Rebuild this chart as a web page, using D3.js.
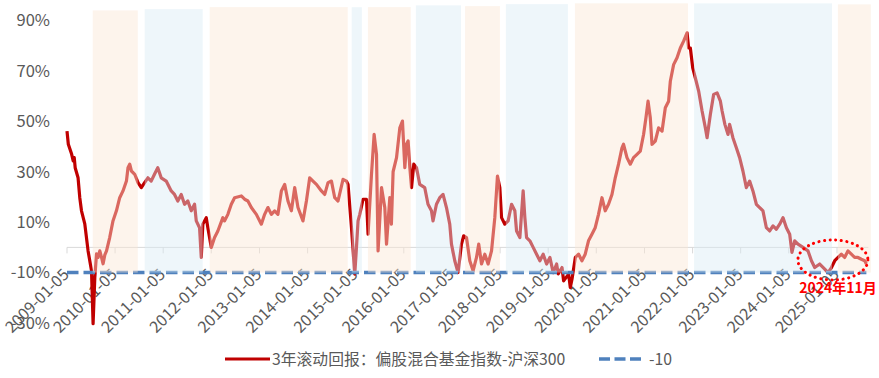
<!DOCTYPE html>
<html>
<head>
<meta charset="utf-8">
<script src="https://cdn.jsdelivr.net/npm/d3@7"></script>
<style>
  body { margin: 0; background: #fff; }
  svg text { font-family: "Noto Sans CJK SC", "Noto Sans", sans-serif; }
</style>
</head>
<body>
<script>
// 3-year rolling return (%)
const rolling3y = [
  ['2009-01-05', 46.1], ['2009-01-15', 40.9], ['2009-02-09', 37.0], ['2009-02-21', 34.3], ['2009-03-01', 35.6],
  ['2009-03-08', 31.6], ['2009-03-30', 27.6], ['2009-04-12', 19.7], ['2009-04-25', 14.5], ['2009-05-20', 9.3],
  ['2009-06-14', -1.4], ['2009-07-10', -9.3], ['2009-07-22', -30.3], ['2009-08-04', -12.0], ['2009-08-17', -2.6],
  ['2009-08-29', -4.0], ['2009-09-11', -1.4], ['2009-09-24', -4.0], ['2009-10-06', -6.5], ['2009-10-19', -3.0],
  ['2009-11-01', -1.4], ['2009-11-25', 3.9], ['2009-12-20', 10.5], ['2010-01-15', 14.5], ['2010-02-09', 19.7],
  ['2010-03-06', 22.4], ['2010-04-01', 26.3], ['2010-04-13', 31.6], ['2010-04-26', 33.0], ['2010-05-09', 30.3],
  ['2010-06-03', 29.0], ['2010-06-28', 25.7], ['2010-07-23', 23.7], ['2010-08-17', 25.7], ['2010-09-11', 27.6],
  ['2010-10-06', 26.3], ['2010-10-31', 29.0], ['2010-11-25', 31.6], ['2010-12-21', 27.6], ['2011-01-28', 26.3],
  ['2011-03-07', 22.4], ['2011-04-01', 21.0], ['2011-04-26', 18.4], ['2011-05-22', 21.0], ['2011-06-16', 17.1],
  ['2011-07-11', 18.4], ['2011-08-06', 14.5], ['2011-08-31', 17.1], ['2011-09-13', 10.5], ['2011-10-08', 7.8],
  ['2011-10-21', -4.0], ['2011-11-02', 9.2], ['2011-11-28', 11.8], ['2011-12-10', 7.8], ['2012-01-05', 0.0],
  ['2012-01-30', 3.9], ['2012-02-24', 6.5], ['2012-04-02', 11.8], ['2012-04-15', 10.5], ['2012-05-10', 13.1],
  ['2012-06-05', 17.1], ['2012-06-30', 19.7], ['2012-08-20', 20.4], ['2012-09-14', 19.1], ['2012-10-09', 18.4],
  ['2012-11-04', 15.8], ['2012-12-12', 13.1], ['2013-01-19', 9.2], ['2013-02-13', 13.1], ['2013-03-10', 15.8],
  ['2013-04-05', 13.1], ['2013-04-30', 14.5], ['2013-05-25', 13.1], ['2013-06-20', 22.4], ['2013-07-15', 25.0],
  ['2013-08-09', 18.4], ['2013-09-04', 14.5], ['2013-09-29', 23.7], ['2013-10-24', 15.8], ['2013-12-01', 10.5],
  ['2013-12-27', 18.4], ['2014-01-21', 27.6], ['2014-02-15', 26.3], ['2014-03-13', 25.0], ['2014-04-20', 22.4],
  ['2014-05-15', 21.0], ['2014-06-09', 25.7], ['2014-07-05', 26.3], ['2014-07-30', 19.7], ['2014-08-24', 18.4],
  ['2014-10-01', 27.0], ['2014-10-27', 26.3], ['2014-11-08', 25.0], ['2014-12-04', 7.8], ['2014-12-29', -10.6],
  ['2015-01-11', 0.0], ['2015-01-23', 10.5], ['2015-02-05', 13.1], ['2015-03-02', 19.1], ['2015-03-28', 19.1],
  ['2015-04-09', 5.2], ['2015-05-05', 29.0], ['2015-05-25', 44.8], ['2015-06-12', 36.9], ['2015-06-24', -1.4],
  ['2015-07-20', 23.7], ['2015-08-14', 15.8], ['2015-08-27', 1.3], ['2015-09-21', 19.7], ['2015-10-03', 9.2],
  ['2015-10-16', 30.0], ['2015-11-11', 35.6], ['2015-12-06', 47.4], ['2015-12-26', 50.1], ['2016-01-13', 31.6],
  ['2016-01-26', 40.9], ['2016-02-07', 42.2], ['2016-02-20', 31.6], ['2016-03-04', 23.7], ['2016-03-21', 33.0],
  ['2016-04-11', 31.6], ['2016-05-05', 25.0], ['2016-06-12', 23.7], ['2016-07-07', 17.1], ['2016-08-02', 14.5],
  ['2016-08-14', 10.5], ['2016-09-09', 17.1], ['2016-10-04', 19.7], ['2016-10-29', 21.0], ['2016-11-24', 15.8],
  ['2016-12-19', 9.2], ['2017-01-01', 1.3], ['2017-01-26', -5.3], ['2017-02-20', -10.0], ['2017-03-18', 1.3],
  ['2017-04-04', 4.6], ['2017-04-25', 3.9], ['2017-05-20', -5.3], ['2017-06-14', -9.3], ['2017-07-10', -4.0],
  ['2017-07-27', 1.3], ['2017-08-17', -6.6], ['2017-09-11', -2.7], ['2017-10-06', -6.6], ['2017-11-01', -1.4],
  ['2017-11-26', 11.8], ['2017-12-16', 28.3], ['2018-01-03', 23.7], ['2018-01-16', 11.8], ['2018-02-10', 9.2],
  ['2018-03-07', 10.5], ['2018-04-02', 17.1], ['2018-04-27', 14.5], ['2018-05-10', 6.5], ['2018-06-04', 3.9],
  ['2018-06-29', 22.4], ['2018-07-12', 11.8], ['2018-07-25', 3.9], ['2018-08-19', 2.6], ['2018-09-13', 0.0],
  ['2018-10-09', -2.7], ['2018-11-03', -5.3], ['2018-11-28', -2.7], ['2018-12-24', -6.6], ['2019-01-18', -4.0],
  ['2019-02-12', -10.0], ['2019-03-10', -6.6], ['2019-03-22', -10.5], ['2019-04-20', -8.0], ['2019-05-02', -13.3],
  ['2019-06-09', -10.6], ['2019-06-22', -15.9], ['2019-07-05', -12.5], ['2019-07-30', -4.0], ['2019-08-24', -2.7],
  ['2019-09-18', -5.3], ['2019-10-13', -2.7], ['2019-11-07', 2.6], ['2019-12-03', 5.2], ['2019-12-28', 7.8],
  ['2020-01-22', 13.1], ['2020-02-17', 19.7], ['2020-03-13', 14.5], ['2020-04-07', 17.1], ['2020-05-03', 21.0],
  ['2020-05-28', 27.6], ['2020-06-22', 33.0], ['2020-07-18', 39.5], ['2020-07-30', 40.9], ['2020-08-25', 35.6],
  ['2020-09-19', 33.0], ['2020-10-14', 35.6], ['2020-11-09', 36.9], ['2020-12-04', 38.2], ['2020-12-29', 44.8],
  ['2021-01-16', 51.4], ['2021-02-01', 58.0], ['2021-02-18', 51.4], ['2021-03-03', 40.9], ['2021-03-28', 42.2],
  ['2021-04-22', 47.4], ['2021-05-18', 46.1], ['2021-06-12', 55.4], ['2021-07-07', 58.0], ['2021-07-20', 65.9],
  ['2021-08-14', 72.5], ['2021-09-09', 75.2], ['2021-10-04', 79.1], ['2021-10-29', 81.8], ['2021-11-24', 85.1],
  ['2021-12-06', 79.1], ['2021-12-19', 79.1], ['2022-01-06', 71.2], ['2022-01-26', 67.2], ['2022-02-20', 62.0],
  ['2022-03-18', 54.1], ['2022-04-12', 47.4], ['2022-04-25', 43.5], ['2022-05-20', 52.8], ['2022-06-14', 60.7],
  ['2022-07-10', 61.3], ['2022-08-04', 58.0], ['2022-08-17', 54.1], ['2022-09-07', 48.8], ['2022-10-01', 44.8],
  ['2022-10-13', 48.8], ['2022-11-07', 43.5], ['2022-12-03', 39.5], ['2022-12-28', 35.6], ['2023-01-22', 30.3],
  ['2023-02-17', 23.7], ['2023-03-14', 26.3], ['2023-04-08', 22.4], ['2023-05-04', 17.1], ['2023-05-29', 15.8],
  ['2023-06-23', 14.5], ['2023-07-19', 7.8], ['2023-08-13', 6.5], ['2023-09-07', 8.5], ['2023-10-03', 7.2],
  ['2023-10-28', 9.2], ['2023-11-22', 11.8], ['2023-12-18', 7.8], ['2024-01-12', 5.2], ['2024-01-29', -2.0],
  ['2024-02-19', 2.6], ['2024-03-15', 1.3], ['2024-04-22', 0.0], ['2024-05-30', -1.4], ['2024-06-25', -5.3],
  ['2024-07-20', -8.0], ['2024-08-27', -6.6], ['2024-10-04', -8.6], ['2024-10-29', -10.0], ['2024-11-24', -8.0],
  ['2024-12-19', -5.3], ['2025-01-13', -4.0], ['2025-02-07', -2.7], ['2025-03-04', -4.0], ['2025-03-29', -1.4],
  ['2025-04-24', -2.7], ['2025-05-19', -4.0], ['2025-06-13', -4.0], ['2025-07-09', -4.7], ['2025-08-03', -5.3],
  ['2025-08-16', -6.6]
];

const refLevel = -10;

// shaded periods: start, end, top (%), kind (up = orange, down = blue)
const bandStart = ['2009-07-19', '2010-08-18', '2011-12-24', '2014-12-06', '2015-04-08', '2016-04-06',
                   '2017-04-14', '2018-02-18', '2019-07-27', '2022-01-16', '2025-01-12'];
const bandEnd   = ['2010-06-26', '2011-11-01', '2014-11-06', '2015-02-21', '2016-02-27', '2017-03-14',
                   '2018-01-04', '2019-06-04', '2021-12-01', '2024-11-28', '2025-09-19'];
const bandTop   = [94, 94.5, 95.3, 95.3, 95.3, 96, 95.7, 96.5, 96.8, 96.8, 96.4];
const bandKind  = ['up', 'down', 'up', 'down', 'up', 'down', 'up', 'down', 'up', 'down', 'up'];

const yTicks = [90, 70, 50, 30, 10, -10, -30];
const xTickLabels = ['2009-01-05', '2010-01-05', '2011-01-05', '2012-01-05', '2013-01-05', '2014-01-05',
                     '2015-01-05', '2016-01-05', '2017-01-05', '2018-01-05', '2019-01-05', '2020-01-05',
                     '2021-01-05', '2022-01-05', '2023-01-05', '2024-01-05', '2025-01-05'];

const seriesName = '3年滚动回报：偏股混合基金指数-沪深300';
const refName = '-10';
const noteText = '2024年11月';
const noteAt = ['2024-12-05', -5];

const parse = d3.timeParse('%Y-%m-%d');
const data = rolling3y.map(d => ({ date: parse(d[0]), value: d[1] }));

const width = 879, height = 378;
const svg = d3.select('body').append('svg')
  .attr('width', width)
  .attr('height', height);

const xScale = d3.scaleTime()
  .domain([parse(xTickLabels[0]), parse(xTickLabels[xTickLabels.length - 1])])
  .range([67, 837]);
const yScale = d3.scaleLinear()
  .domain([-30, 90])
  .range([323, 20.5]);

const lastX = xScale(data[data.length - 1].date);

// y labels
svg.append('g')
  .selectAll('text')
  .data(yTicks)
  .join('text')
  .attr('x', 50)
  .attr('y', d => yScale(d))
  .attr('dy', '0.35em')
  .attr('text-anchor', 'end')
  .attr('fill', '#595959')
  .style('font-size', '16.5px')
  .text(d => d + '%');

// category axis at 0
const axisG = svg.append('g')
  .attr('transform', `translate(0,${yScale(0)})`);
axisG.append('line')
  .attr('x1', xScale.range()[0]).attr('x2', lastX + 2)
  .attr('stroke', '#d9d9d9').attr('stroke-width', 1);
axisG.selectAll('line.tick')
  .data(xTickLabels)
  .join('line')
  .attr('class', 'tick')
  .attr('x1', d => xScale(parse(d))).attr('x2', d => xScale(parse(d)))
  .attr('y1', 0).attr('y2', 6)
  .attr('stroke', '#d9d9d9');

// x labels
svg.append('g')
  .selectAll('text')
  .data(xTickLabels)
  .join('text')
  .attr('transform', d => `translate(${xScale(parse(d)) + 3},${yScale(refLevel) + 3}) rotate(-45)`)
  .attr('text-anchor', 'end')
  .attr('fill', '#595959')
  .style('font-size', '16px')
  .text(d => d);

// the series
const line = d3.line()
  .x(d => xScale(d.date))
  .y(d => yScale(d.value));

svg.append('path')
  .datum(data)
  .attr('fill', 'none')
  .attr('stroke', '#c00000')
  .attr('stroke-width', 3.2)
  .attr('stroke-linejoin', 'round')
  .attr('d', line);

// -10 reference
svg.append('line')
  .attr('x1', xScale.range()[0]).attr('x2', lastX)
  .attr('y1', yScale(refLevel)).attr('y2', yScale(refLevel))
  .attr('stroke', '#4f81bd')
  .attr('stroke-width', 3.5)
  .attr('stroke-dasharray', '11.5 5');

// shaded periods drawn over everything as a translucent wash
const bandColor = { up: 'rgb(250,231,213)', down: 'rgb(215,234,244)' };
const bandAlpha = { up: 0.45, down: 0.43 };
svg.append('g')
  .selectAll('rect')
  .data(bandStart.map((s, i) => ({ s: parse(s), e: parse(bandEnd[i]), top: bandTop[i], kind: bandKind[i] })))
  .join('rect')
  .attr('x', d => xScale(d.s))
  .attr('width', d => xScale(d.e) - xScale(d.s))
  .attr('y', d => yScale(d.top))
  .attr('height', d => yScale(refLevel) - yScale(d.top))
  .attr('fill', d => bandColor[d.kind])
  .attr('fill-opacity', d => bandAlpha[d.kind]);

// annotation
const nx = xScale(parse(noteAt[0])), ny = yScale(noteAt[1]);
svg.append('ellipse')
  .attr('cx', nx).attr('cy', ny)
  .attr('rx', 35).attr('ry', 20)
  .attr('fill', 'none')
  .attr('stroke', '#ff0000')
  .attr('stroke-width', 3)
  .attr('stroke-linecap', 'round')
  .attr('stroke-dasharray', '0.1 5.5');
svg.append('text')
  .attr('x', nx + 5).attr('y', ny + 33)
  .attr('text-anchor', 'middle')
  .attr('fill', '#ff0000')
  .style('font-size', '14px')
  .style('font-weight', 'bold')
  .text(noteText);

// legend
const lg = svg.append('g').attr('transform', 'translate(0,359)');
lg.append('line')
  .attr('x1', 225).attr('x2', 270)
  .attr('stroke', '#c00000').attr('stroke-width', 3);
lg.append('text')
  .attr('x', 272).attr('dy', '0.35em')
  .attr('fill', '#595959')
  .style('font-size', '15.8px')
  .text(seriesName);
lg.append('line')
  .attr('x1', 599).attr('x2', 642)
  .attr('stroke', '#4f81bd').attr('stroke-width', 3.5)
  .attr('stroke-dasharray', '11 4.5');
lg.append('text')
  .attr('x', 649).attr('dy', '0.35em')
  .attr('fill', '#595959')
  .style('font-size', '15.8px')
  .text(refName);
</script>
</body>
</html>
